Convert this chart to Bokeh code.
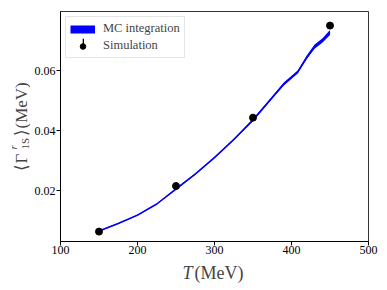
from math import pi
from bokeh.plotting import figure
from bokeh.layouts import row, column
from bokeh.models import (Range1d, FixedTicker, Label, Legend, LegendItem,
                          ColumnDataSource, NumeralTickFormatter)
from bokeh.embed import file_html
from bokeh.resources import INLINE

# MC integration band (centre and half width)
mc_T = [150, 175, 200, 225, 250, 275, 300, 325, 350, 360, 375, 390, 408, 420, 430, 440, 450]
mc_G = [0.0065, 0.0090, 0.0118, 0.0155, 0.0205, 0.0255, 0.0310, 0.0370, 0.0435,
        0.0465, 0.0510, 0.0555, 0.0595, 0.0645, 0.0680, 0.0700, 0.0727]
mc_err = [0.0002, 0.0002, 0.0002, 0.0002, 0.0003, 0.0003, 0.0003, 0.0003, 0.0004,
          0.0004, 0.0004, 0.0005, 0.0005, 0.0006, 0.0007, 0.0007, 0.0008]

# Simulation points
sim_T = [150, 250, 350, 450]
sim_G = [0.0063, 0.0215, 0.0443, 0.0750]
sim_err = [0.0002, 0.0002, 0.0003, 0.0004]

x_ticks = [100, 200, 300, 400, 500]
y_ticks = [0.02, 0.04, 0.06]

FONT = "Liberation Serif"

mc_lo = [g - e for g, e in zip(mc_G, mc_err)]
mc_hi = [g + e for g, e in zip(mc_G, mc_err)]
mc_src = ColumnDataSource(dict(T=mc_T, lo=mc_lo, hi=mc_hi, G=mc_G))
sim_lo = [g - e for g, e in zip(sim_G, sim_err)]
sim_hi = [g + e for g, e in zip(sim_G, sim_err)]
sim_src = ColumnDataSource(dict(T=sim_T, G=sim_G, lo=sim_lo, hi=sim_hi))

# ---------------- main plot ----------------
p = figure(frame_width=308, frame_height=230, output_backend="svg", toolbar_location=None,
           x_range=Range1d(100, 500), y_range=Range1d(0.003, 0.0797),
           min_border_left=30, min_border_right=19, min_border_top=11,
           min_border_bottom=18)
p.grid.visible = False
p.outline_line_color = "black"
p.outline_line_alpha = 0.8

p.varea(x="T", y1="lo", y2="hi", source=mc_src, fill_color="blue")
p.line(x="T", y="G", source=mc_src, line_color="blue", line_width=1.5)

p.segment(x0="T", y0="lo", x1="T", y1="hi", source=sim_src, line_color="black", line_width=1.5)
dots = p.scatter(x="T", y="G", source=sim_src, size=7, fill_color="black", line_color="black")

# legend-only renderers (placed outside the visible range)
mc_key = p.line(x=[0, 1], y=[0, 0], line_color="blue", line_width=8)
bar_key = p.vbar(x=[0], top=[0], width=1, fill_color="black", line_color=None)

for ax in (p.xaxis[0], p.yaxis[0]):
    ax.axis_line_color = "black"
    ax.major_tick_line_color = "black"
    ax.major_tick_in = 0
    ax.major_tick_out = 4
    ax.minor_tick_line_color = None
    ax.major_label_text_font = FONT
    ax.major_label_text_font_size = "12px"
    ax.major_label_text_color = "black"
p.yaxis.major_label_standoff = 1
p.xaxis.major_label_standoff = 0
p.xaxis.ticker = FixedTicker(ticks=x_ticks)
p.yaxis.ticker = FixedTicker(ticks=y_ticks)
p.yaxis.formatter = NumeralTickFormatter(format="0.00")

legend = Legend(items=[LegendItem(label="MC integration", renderers=[mc_key]),
                       LegendItem(label="Simulation", renderers=[dots])],
                location="top_left", margin=5, padding=4, spacing=2,
                glyph_width=25, glyph_height=14, label_height=14, label_standoff=8,
                label_text_font=FONT, label_text_font_size="12.5px",
                border_line_color="#cccccc", border_line_width=1,
                background_fill_alpha=0.8)
p.add_layout(legend)
# vertical error-bar stroke of the "Simulation" legend key
bar_legend = Legend(items=[LegendItem(label=" ", renderers=[bar_key])],
                    location=(21.5, 192), margin=0, padding=0, spacing=0,
                    glyph_width=2, glyph_height=12, label_height=12, label_standoff=0,
                    label_text_font_size="1px", border_line_color=None,
                    background_fill_alpha=0)
p.add_layout(bar_legend)

# ---------------- y-axis label strip ----------------
ylab = figure(frame_width=30, frame_height=230, output_backend="svg", toolbar_location=None,
              min_border_left=0, min_border_right=0, min_border_top=11, min_border_bottom=18,
              x_axis_type=None, y_axis_type=None, outline_line_color=None)
ylab.grid.visible = False
ylab.add_layout(Label(x=21, y=170, x_units="canvas", y_units="canvas", text="⟨Γ",
                      text_baseline="alphabetic", angle=pi / 2,
                      text_font=FONT, text_font_size="17px"))
ylab.add_layout(Label(x=12, y=149, x_units="canvas", y_units="canvas", text="r",
                      text_baseline="alphabetic", angle=pi / 2,
                      text_font=FONT, text_font_style="italic", text_font_size="11px"))
ylab.add_layout(Label(x=24, y=149, x_units="canvas", y_units="canvas", text="1S",
                      text_baseline="alphabetic", angle=pi / 2,
                      text_font=FONT, text_font_size="11px"))
ylab.add_layout(Label(x=21, y=135, x_units="canvas", y_units="canvas", text="⟩(MeV)",
                      text_baseline="alphabetic", angle=pi / 2,
                      text_font=FONT, text_font_size="17px"))

# ---------------- x-axis label strip ----------------
xlab = figure(frame_width=387, frame_height=31, output_backend="svg", toolbar_location=None,
              min_border=0, x_axis_type=None, y_axis_type=None, outline_line_color=None)
xlab.grid.visible = False
xlab.add_layout(Label(x=182, y=13, x_units="canvas", y_units="canvas", text="T",
                      text_baseline="alphabetic",
                      text_font=FONT, text_font_style="italic", text_font_size="18px"))
xlab.add_layout(Label(x=194, y=13, x_units="canvas", y_units="canvas", text="(MeV)",
                      text_baseline="alphabetic", text_font=FONT, text_font_size="18px"))

layout = column(row(ylab, p, spacing=0), xlab, spacing=0)

open("out.html", "w").write(file_html(layout, INLINE))
